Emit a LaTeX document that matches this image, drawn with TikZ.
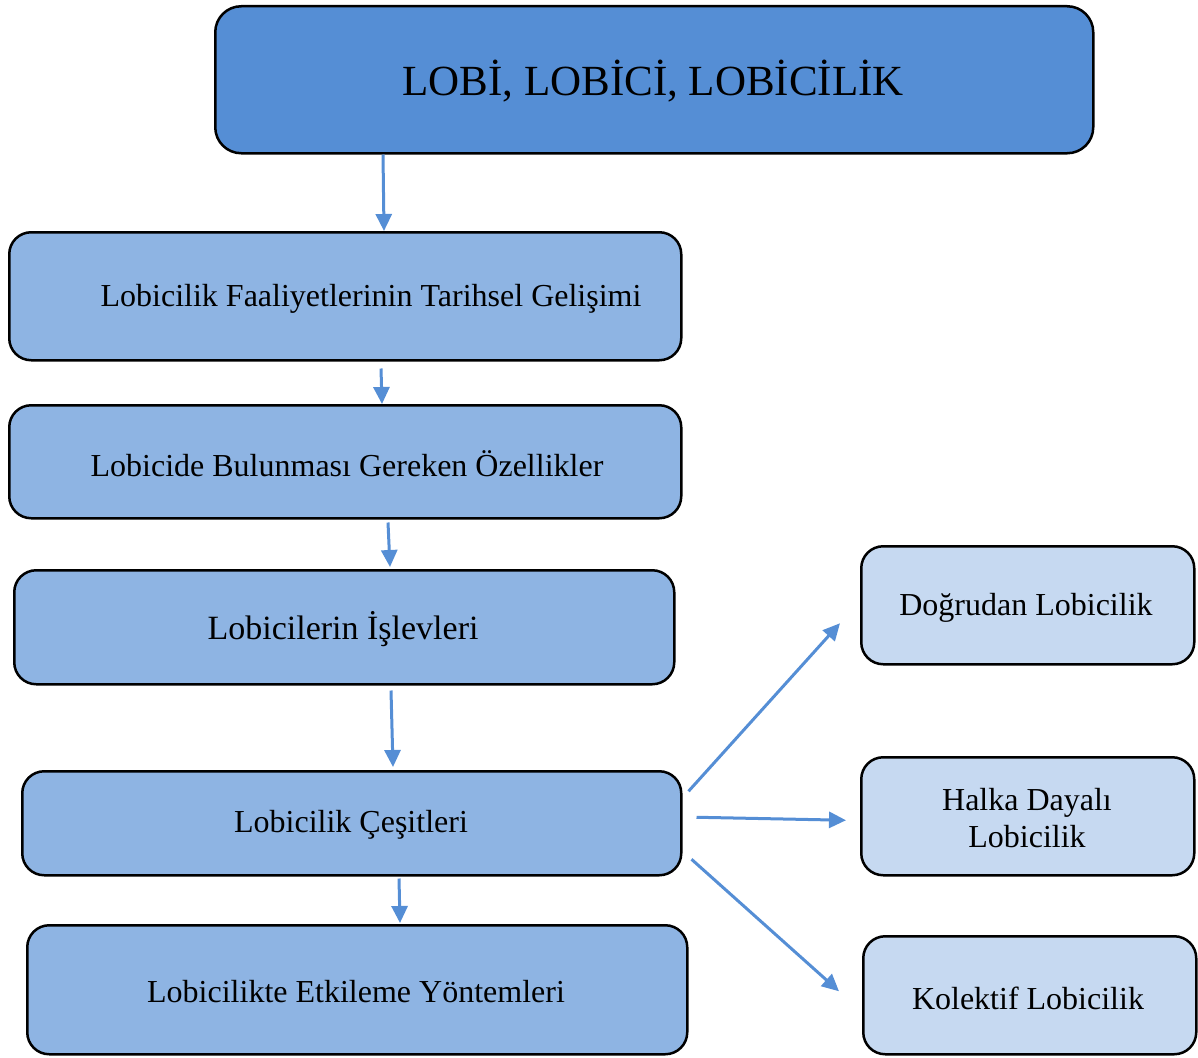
\documentclass[tikz,border=0pt]{standalone}
\usepackage{fontspec}
\setmainfont{Liberation Serif}
\usetikzlibrary{arrows.meta}
\definecolor{topblue}{HTML}{558ED5}
\definecolor{midblue}{HTML}{8EB4E3}
\definecolor{paleblue}{HTML}{C6D9F1}
\definecolor{linkblue}{HTML}{558ED5}
\begin{document}
\begin{tikzpicture}[x=1pt,y=-1pt,
  box/.style={draw=black,line width=2.5pt,rounded corners=22pt,inner sep=0pt,anchor=north west},
  mainbox/.style={box,fill=midblue},
  sidebox/.style={box,fill=paleblue},
  txt/.style={font=\fontsize{32}{37}\selectfont,align=center,inner sep=0pt},
  link/.style={draw=linkblue,line width=3pt,-{Triangle[length=17pt,width=16pt]}}]
\useasboundingbox (0,0) rectangle (1198,1057);

% boxes
\node[box,fill=topblue,rounded corners=26pt,minimum width=878pt,minimum height=147pt] (title) at (214,5) {};
\node[mainbox,minimum width=672pt,minimum height=128pt] (b1) at (8,231) {};
\node[mainbox,minimum width=672pt,minimum height=113pt] (b2) at (8,404) {};
\node[mainbox,minimum width=660pt,minimum height=114pt] (b3) at (13,569) {};
\node[mainbox,minimum width=659pt,minimum height=104pt] (b4) at (21,770) {};
\node[mainbox,minimum width=660pt,minimum height=129pt] (b5) at (26,924) {};
\node[sidebox,minimum width=333pt,minimum height=118pt] (r1) at (860,545) {};
\node[sidebox,minimum width=333pt,minimum height=118pt] (r2) at (860,756) {};
\node[sidebox,minimum width=333pt,minimum height=118pt] (r3) at (862,935) {};

% labels
\node[txt,font=\fontsize{43}{49}\selectfont] (ttitle) at (653,81) {LOBİ, LOBİCİ, LOBİCİLİK};
\node[txt] (t1) at (371,299) {Lobicilik Faaliyetlerinin Tarihsel Gelişimi};
\node[txt] (t2) at (347,464) {Lobicide Bulunması Gereken Özellikler};
\node[txt,font=\fontsize{34}{40}\selectfont] (t3) at (343,629) {Lobicilerin İşlevleri};
\node[txt] (t4) at (351,825) {Lobicilik Çeşitleri};
\node[txt] (t5) at (356,992) {Lobicilikte Etkileme Yöntemleri};
\node[txt] (s1) at (1026,608) {Doğrudan Lobicilik};
\node[txt] (s2) at (1027,818) {Halka Dayalı\\Lobicilik};
\node[txt] (s3) at (1028,998) {Kolektif Lobicilik};

% vertical links
\draw[link] ([xshift=169pt]title.south west) -- ([xshift=376pt]b1.north west);
\draw[link] ([xshift=373pt,yshift=-7pt]b1.south west) -- ([xshift=374pt]b2.north west);
\draw[link] ([xshift=380pt,yshift=-3pt]b2.south west) -- ([xshift=377pt,yshift=2pt]b3.north west);
\draw[link] ([xshift=378pt,yshift=-5pt]b3.south west) -- ([xshift=372pt,yshift=3pt]b4.north west);
\draw[link] ([xshift=378pt,yshift=-2pt]b4.south west) -- ([xshift=374pt,yshift=1pt]b5.north west);

% branch links
\draw[link] ([xshift=6pt,yshift=32pt]b4.east) -- ([xshift=-20pt,yshift=-18pt]r1.west);
\draw[link] ([xshift=14pt,yshift=6pt]b4.east) -- ([xshift=-14pt,yshift=-4pt]r2.west);
\draw[link] ([xshift=9pt,yshift=-36pt]b4.east) -- ([xshift=-23pt,yshift=4pt]r3.west);
\end{tikzpicture}
\end{document}
